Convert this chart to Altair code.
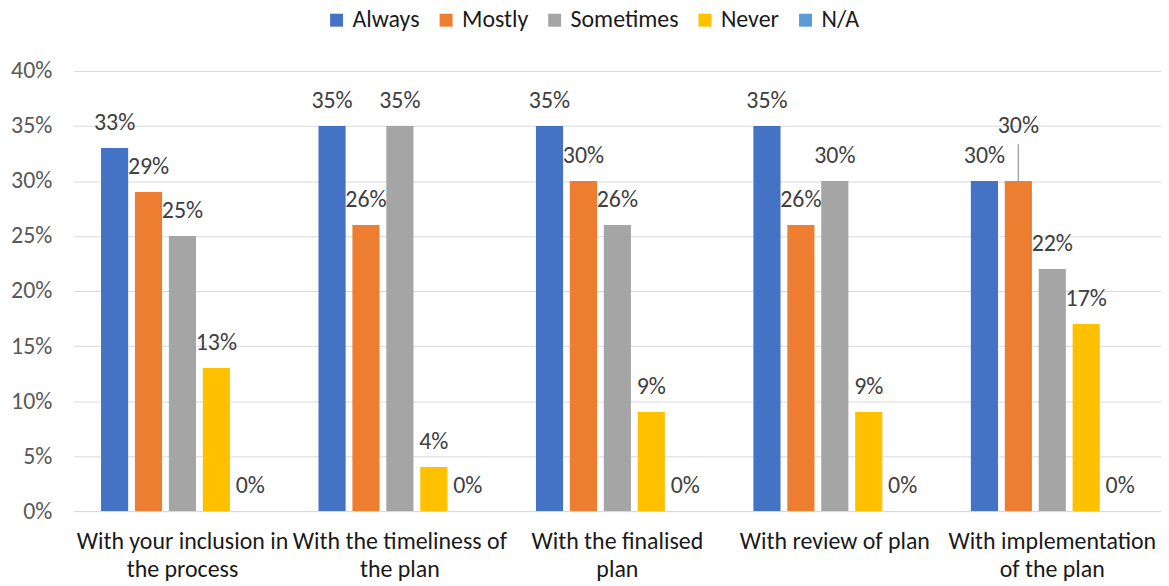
import altair as alt
import pandas as pd

categories = [
    "With your inclusion in|the process",
    "With the timeliness of|the plan",
    "With the finalised|plan",
    "With review of plan",
    "With implementation|of the plan",
]
series = ["Always", "Mostly", "Sometimes", "Never", "N/A"]
colors = ["#4472C4", "#ED7D31", "#A5A5A5", "#FFC000", "#5B9BD5"]

always = [33, 35, 35, 35, 30]
mostly = [29, 26, 30, 26, 30]
sometimes = [25, 35, 26, 30, 22]
never = [13, 4, 9, 9, 17]
na = [0, 0, 0, 0, 0]

# label drawn with a leader line in the original
leader_cat = "With implementation|of the plan"
leader_series = "Mostly"

rows = []
for s, vals in zip(series, [always, mostly, sometimes, never, na]):
    for c, v in zip(categories, vals):
        rows.append({"cat": c, "series": s, "value": v,
                     "leader": (c == leader_cat and s == leader_series)})
df = pd.DataFrame(rows)
df["label"] = df["value"].astype(str) + "%"

FONT = "Carlito, Lato, sans-serif"
FS = 24

x_enc = alt.X("cat:N", sort=categories, title=None,
              scale=alt.Scale(paddingInner=0.22, paddingOuter=0.11),
              axis=alt.Axis(labelExpr="split(datum.label, '|')", labelAngle=0,
                            labelFontSize=FS, labelColor="#1a1a1a", labelFont=FONT,
                            labelLineHeight=28, labelPadding=19, ticks=False,
                            domain=True, domainColor="#D9D9D9", grid=False,
                            labelBaseline="top", labelLimit=300))
xo_enc = alt.XOffset("series:N", sort=series,
                     scale=alt.Scale(paddingInner=0.2, paddingOuter=0.1))
y_enc = alt.Y("value:Q", title=None,
              scale=alt.Scale(domain=[0, 40], nice=False),
              axis=alt.Axis(values=list(range(0, 41, 5)), labelExpr="datum.value + '%'",
                            labelFontSize=FS, labelColor="#595959", labelFont=FONT,
                            labelPadding=22, ticks=False, domain=False,
                            grid=True, gridColor="#D9D9D9", gridWidth=1))

bars = alt.Chart(df).mark_bar().encode(
    x=x_enc, xOffset=xo_enc, y=y_enc,
    color=alt.Color("series:N", sort=series,
                    scale=alt.Scale(domain=series, range=colors),
                    legend=alt.Legend(title=None, orient="none", direction="horizontal",
                                      legendX=252, legendY=-63, padding=0,
                                      symbolType="square", symbolSize=169,
                                      symbolStrokeWidth=0, labelFontSize=FS,
                                      labelFont=FONT, labelColor="#1a1a1a",
                                      labelOffset=4, columnPadding=14,
                                      labelLimit=300)),
)

labels = alt.Chart(df).transform_filter("!datum.leader").mark_text(
    dy=-25, fontSize=FS, font=FONT, color="#404040", baseline="middle"
).encode(x=alt.X("cat:N", sort=categories), xOffset=alt.XOffset("series:N", sort=series),
         y="value:Q", text="label:N")

leader_label = alt.Chart(df).transform_filter("datum.leader").mark_text(
    dy=-55, fontSize=FS, font=FONT, color="#404040", baseline="middle"
).encode(x=alt.X("cat:N", sort=categories), xOffset=alt.XOffset("series:N", sort=series),
         y="value:Q", text="label:N")

leader_line = alt.Chart(df).transform_filter("datum.leader").mark_rule(
    y2Offset=-37, color="#A6A6A6", strokeWidth=1.5
).encode(x=alt.X("cat:N", sort=categories), xOffset=alt.XOffset("series:N", sort=series),
         y="value:Q", y2="value:Q")

chart = alt.layer(bars, leader_line, labels, leader_label).properties(
    width=1092, height=442,
    autosize=alt.AutoSizeParams(type="none"),
    padding={"left": 66, "top": 62, "right": 0, "bottom": 74},
).configure_view(stroke=None)

chart.save("out.html", embed_options={"renderer": "svg", "actions": False})
